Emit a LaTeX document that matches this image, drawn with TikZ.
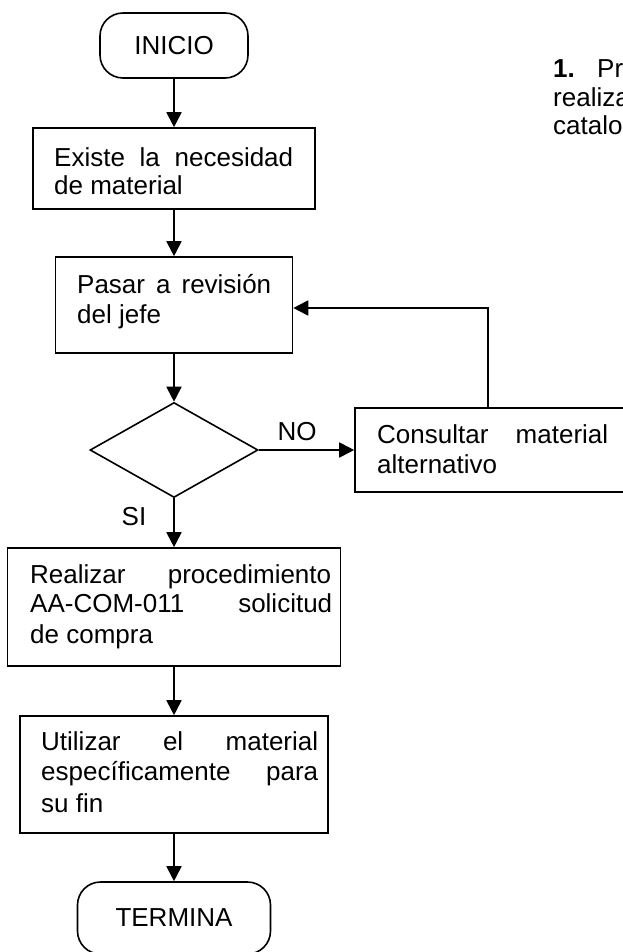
\documentclass[tikz,border=0pt]{standalone}
\usepackage{fontspec}
\setmainfont{Liberation Sans}
\usetikzlibrary{arrows.meta,shapes.geometric}
\begin{document}
\begin{tikzpicture}[x=1pt,y=-1pt,
  every node/.style={font=\fontsize{26pt}{27pt}\selectfont},
  box/.style={draw, line width=1.6pt, rectangle, inner sep=0pt},
  term/.style={draw, line width=1.6pt, rectangle, rounded corners=23pt, inner sep=0pt},
  dec/.style={draw, line width=1.6pt, diamond, inner sep=0pt, aspect=1.77},
  txt/.style={anchor=base west, inner sep=0pt},
  lbl/.style={anchor=base, inner sep=0pt},
  arr/.style={line width=1.8pt, -{Triangle[length=15pt,width=15pt]}}
]
\useasboundingbox (0,0) rectangle (623,952);
\clip (0,0) rectangle (623,952);
\fill[white] (0,0) rectangle (623,952);

% shapes
\node[term, minimum width=148pt, minimum height=65pt] (inicio) at (174,45.5) {INICIO};
\node[box, minimum width=282pt, minimum height=81pt] (b2) at (174,168.5) {};
\node[box, minimum width=237pt, minimum height=96pt] (b3) at (174,305) {};
\node[dec, minimum width=168pt, minimum height=95pt] (dia) at (174,450) {};
\node[box, minimum width=285pt, minimum height=84pt] (cons) at (497.5,450) {};
\node[box, minimum width=333pt, minimum height=118pt] (b4) at (174,607) {};
\node[box, minimum width=308pt, minimum height=117pt] (b5) at (174,774.5) {};
\node[term, minimum width=193pt, minimum height=72pt] (fin) at (174,918) {TERMINA};

% texts
\node[txt] (t2a) at (54,167) {\makebox[239pt][s]{Existe la necesidad}};
\node[txt] (t2b) at (54,194) {de material};
\node[txt] (t3a) at (77,293) {\makebox[194pt][s]{Pasar a revisión}};
\node[txt] (t3b) at (77,323) {del jefe};
\node[txt] (tca) at (377,443) {\makebox[231pt][s]{Consultar material}};
\node[txt] (tcb) at (377,473) {alternativo};
\node[txt] (t4a) at (30,583) {\makebox[301pt][s]{Realizar procedimiento}};
\node[txt] (t4b) at (30,612) {\makebox[302pt][s]{AA-COM-011 solicitud}};
\node[txt] (t4c) at (30,643) {de compra};
\node[txt] (t5a) at (41,750) {\makebox[277pt][s]{Utilizar el material}};
\node[txt] (t5b) at (41,780) {\makebox[277pt][s]{específicamente para}};
\node[txt] (t5c) at (41,812) {su fin};
\node[lbl] (no) at (297,440) {NO};
\node[lbl] (si) at (134,525) {SI};

% clipped side text (cut by the page edge, as in the reference)
\node[txt] (n1) at (553,78) {\textbf{1.}};
\node[txt] (n1b) at (597,78) {Pro};
\node[txt] (n2) at (553,107) {realizar};
\node[txt] (n3) at (553,135) {catalogo};

% connectors
\coordinate (fb) at (488,308);
\draw[arr] (inicio) -- (b2);
\draw[arr] (b2) -- (b3);
\draw[arr] (b3) -- (dia);
\draw[arr] (dia) -- (cons);
\draw[arr] (cons.north -| fb) -- (fb) -- (b3.east |- fb);
\draw[arr] (dia) -- (b4);
\draw[arr] (b4) -- (b5);
\draw[arr] (b5) -- (fin);
\end{tikzpicture}
\end{document}
